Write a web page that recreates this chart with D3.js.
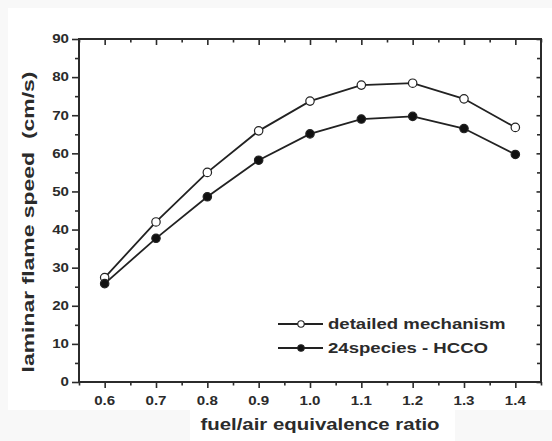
<!DOCTYPE html>
<html>
<head>
<meta charset="utf-8">
<script src="https://cdn.jsdelivr.net/npm/d3@7/dist/d3.min.js"></script>
<style>
  html, body { margin: 0; padding: 0; background: #f8f8f8; }
  svg { display: block; }
  text { font-family: "Liberation Sans", Arial, sans-serif; font-weight: bold; fill: #2b2b2b; }
</style>
</head>
<body>
<svg id="chart" width="552" height="441"></svg>
<script>
// Equivalence ratios and laminar flame speeds (cm/s)
const phi = [0.6, 0.7, 0.8, 0.9, 1.0, 1.1, 1.2, 1.3, 1.4];
const detailedMechanism = [27.4, 42.0, 55.0, 65.9, 73.7, 77.9, 78.4, 74.3, 66.8];
const species24HCCO = [25.8, 37.7, 48.6, 58.2, 65.1, 69.0, 69.7, 66.5, 59.7];
const seriesNames = ["detailed mechanism", "24species - HCCO"];
const xTickValues = [0.6, 0.7, 0.8, 0.9, 1.0, 1.1, 1.2, 1.3, 1.4];
const yTickValues = [0, 10, 20, 30, 40, 50, 60, 70, 80, 90];
const xTitle = "fuel/air equivalence ratio";
const yTitle = "laminar flame speed\u00a0\u00a0(cm/s)";

const svg = d3.select("#chart");
const ink = "#2b2b2b";
const plot = { left: 79, right: 541, top: 39, bottom: 382 };

const x = d3.scaleLinear().domain([0.55, 1.45]).range([plot.left, plot.right]);
const y = d3.scaleLinear().domain([0, 90]).range([plot.bottom, plot.top]);

// page backdrop
svg.append("rect").attr("x", 8).attr("y", 8).attr("width", 544).attr("height", 402).attr("fill", "#ffffff");
svg.append("rect").attr("x", 190).attr("y", 405).attr("width", 265).attr("height", 36).attr("fill", "#ffffff");

// wide-set bold lettering: text drawn inside a scaled group
function label(parent, str, tx, ty, opts) {
  const g = parent.append("g")
    .attr("transform", `translate(${tx},${ty}) rotate(${opts.rotate || 0}) scale(${opts.sx || 1},1)`);
  g.append("text")
    .attr("text-anchor", opts.anchor || "middle")
    .attr("dy", opts.dy || 0)
    .style("font-size", opts.size + "px")
    .text(str);
  return g;
}

// axes via d3.axis, then restyled
const xMinor = d3.range(0.55, 1.451, 0.05).map(v => +v.toFixed(2))
  .filter(v => !xTickValues.some(t => Math.abs(t - v) < 1e-6));
const yMinor = d3.range(5, 90, 10);

function styleAxis(g) {
  g.select(".domain").remove();
  g.selectAll(".tick line").attr("stroke", ink).attr("stroke-width", 1.6);
  g.selectAll(".tick text").remove();
}

// bottom: outward ticks
svg.append("g").attr("transform", `translate(0,${plot.bottom})`)
  .call(d3.axisBottom(x).tickValues(xTickValues).tickSize(6)).call(styleAxis);
svg.append("g").attr("transform", `translate(0,${plot.bottom})`)
  .call(d3.axisBottom(x).tickValues(xMinor).tickSize(3.5)).call(styleAxis);
// top: inward ticks
svg.append("g").attr("transform", `translate(0,${plot.top})`)
  .call(d3.axisBottom(x).tickValues(xTickValues).tickSize(6)).call(styleAxis);
svg.append("g").attr("transform", `translate(0,${plot.top})`)
  .call(d3.axisBottom(x).tickValues(xMinor).tickSize(3.5)).call(styleAxis);
// left: outward ticks
svg.append("g").attr("transform", `translate(${plot.left},0)`)
  .call(d3.axisLeft(y).tickValues(yTickValues).tickSize(7)).call(styleAxis);
svg.append("g").attr("transform", `translate(${plot.left},0)`)
  .call(d3.axisLeft(y).tickValues(yMinor).tickSize(4)).call(styleAxis);
// right: inward ticks
svg.append("g").attr("transform", `translate(${plot.right},0)`)
  .call(d3.axisLeft(y).tickValues(yTickValues).tickSize(4.5)).call(styleAxis);
svg.append("g").attr("transform", `translate(${plot.right},0)`)
  .call(d3.axisLeft(y).tickValues(yMinor).tickSize(4)).call(styleAxis);

// frame
svg.append("rect")
  .attr("x", plot.left).attr("y", plot.top)
  .attr("width", plot.right - plot.left).attr("height", plot.bottom - plot.top)
  .attr("fill", "none").attr("stroke", ink).attr("stroke-width", 2);

// tick labels
const fmt = d3.format(".1f");
xTickValues.forEach(v => label(svg, fmt(v), x(v), 405, { size: 12, sx: 1.26 }));
yTickValues.forEach(v => label(svg, String(v), 69, y(v), { size: 12, sx: 1.26, anchor: "end", dy: "0.36em" }));

// axis titles
label(svg, xTitle, 320, 430, { size: 17, sx: 1.2 });
label(svg, yTitle, 34, 222, { size: 17, sx: 1.35, rotate: -90 });

// series
const series = [
  { name: seriesNames[0], values: detailedMechanism, fill: "#ffffff" },
  { name: seriesNames[1], values: species24HCCO, fill: "#111111" }
];
const line = d3.line().x(d => x(d[0])).y(d => y(d[1]));

series.forEach(s => {
  const pts = phi.map((p, i) => [p, s.values[i]]);
  svg.append("path").datum(pts)
    .attr("d", line).attr("fill", "none")
    .attr("stroke", "#222").attr("stroke-width", 1.8);
  svg.append("g").selectAll("circle").data(pts).join("circle")
    .attr("cx", d => x(d[0])).attr("cy", d => y(d[1]))
    .attr("r", 4.2)
    .attr("fill", s.fill).attr("stroke", "#222").attr("stroke-width", 1.2);
});

// legend
const legend = svg.append("g");
series.forEach((s, i) => {
  const ly = 324 + i * 24;
  legend.append("line").attr("x1", 278).attr("x2", 323).attr("y1", ly).attr("y2", ly)
    .attr("stroke", "#222").attr("stroke-width", 1.8);
  legend.append("circle").attr("cx", 301).attr("cy", ly).attr("r", 3.2)
    .attr("fill", s.fill).attr("stroke", "#222").attr("stroke-width", 1.1);
  label(legend, s.name, 328, ly, { size: 15, sx: 1.24, anchor: "start", dy: "0.36em" });
});
</script>
</body>
</html>
